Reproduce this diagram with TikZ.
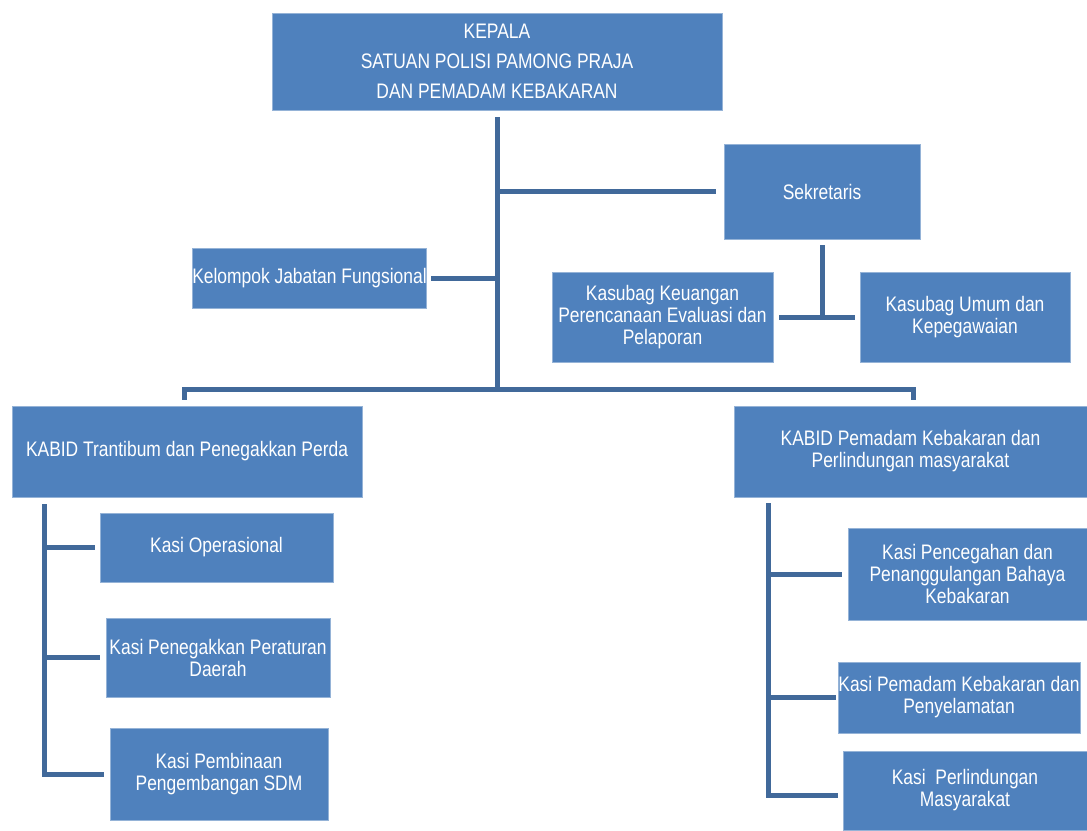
\documentclass[tikz,border=0pt]{standalone}
\usepackage{fontspec}
\setmainfont{Liberation Sans}[FakeStretch=0.83]
\definecolor{boxblue}{HTML}{4F81BD}
\definecolor{lineblue}{HTML}{41699A}
\begin{document}
\begin{tikzpicture}[x=1pt,y=-1pt,
  box/.style={fill=boxblue, draw=boxblue!60!white, line width=0.6pt, text=white, align=center,
    inner sep=0pt, font=\fontsize{21}{22}\selectfont},
  conn/.style={draw=lineblue, line width=5pt, line join=miter}]
\useasboundingbox (0,0) rectangle (1087,830);
% boxes
\node[box, minimum width=450pt, minimum height=97pt, font=\fontsize{21}{30}\selectfont] (kepala) at (497,61.5)
  {KEPALA\\SATUAN POLISI PAMONG PRAJA\\DAN PEMADAM KEBAKARAN};
\node[box, minimum width=196pt, minimum height=95pt] (sek) at (822,191.5) {Sekretaris};
\node[box, minimum width=233pt, minimum height=60pt] (kel) at (309.5,278) {Kelompok Jabatan Fungsional};
\node[box, minimum width=221pt, minimum height=90pt] (keu) at (662.5,317) {Kasubag Keuangan\\Perencanaan Evaluasi dan\\Pelaporan};
\node[box, minimum width=210pt, minimum height=90pt] (umum) at (965,317) {Kasubag Umum dan\\Kepegawaian};
\node[box, minimum width=350pt, minimum height=91pt] (kab1) at (187,451.5) {KABID Trantibum dan Penegakkan Perda};
\node[box, minimum width=353pt, minimum height=91pt] (kab2) at (910.5,451.5) {KABID Pemadam Kebakaran dan\\Perlindungan masyarakat};
\node[box, minimum width=233pt, minimum height=69pt] (ops) at (216.5,547.5) {Kasi Operasional};
\node[box, minimum width=224pt, minimum height=79pt] (pen) at (218,657.5) {Kasi Penegakkan Peraturan\\Daerah};
\node[box, minimum width=218pt, minimum height=92pt] (pem) at (219,774) {Kasi Pembinaan\\Pengembangan SDM};
\node[box, minimum width=239pt, minimum height=92pt] (cegah) at (967.5,574) {Kasi Pencegahan dan\\Penanggulangan Bahaya\\Kebakaran};
\node[box, minimum width=242pt, minimum height=71pt] (padam) at (959,697.5) {Kasi Pemadam Kebakaran dan\\Penyelamatan};
\node[box, minimum width=244pt, minimum height=79pt] (lind) at (965,790.5) {Kasi\ \ Perlindungan\\Masyarakat};
% junction coordinates
\coordinate (jb) at (497,389);
\coordinate (js) at (497,191.5);
\coordinate (jf) at (497,278);
\coordinate (l0) at (44,504);
\coordinate (r0) at (768,503);
% connectors
\draw[conn, shorten <=7pt] (kepala.south) -- (jb);
\draw[conn, shorten >=8pt] (js) -- (sek.west);
\draw[conn, shorten <=4pt] (kel.east) -- (jf);
\draw[conn, shorten <=6pt, shorten >=6pt] ([xshift=-3pt]kab1.north) |- (jb) -| ([xshift=2.5pt]kab2.north);
\draw[conn, shorten <=6pt] (sek.south) -- (sek.south |- keu.east);
\draw[conn, shorten <=6pt, shorten >=5pt] (keu.east) -- (umum.west);
\draw[conn, shorten >=5pt] (l0) |- (ops.west);
\draw[conn, shorten >=6pt] (l0) |- (pen.west);
\draw[conn, shorten >=6pt] (l0) |- (pem.west);
\draw[conn, shorten >=6pt] (r0) |- (cegah.west);
\draw[conn, shorten >=2pt] (r0) |- (padam.west);
\draw[conn, shorten >=5pt] (r0) |- ([yshift=-4.5pt]lind.west);
\end{tikzpicture}
\end{document}
